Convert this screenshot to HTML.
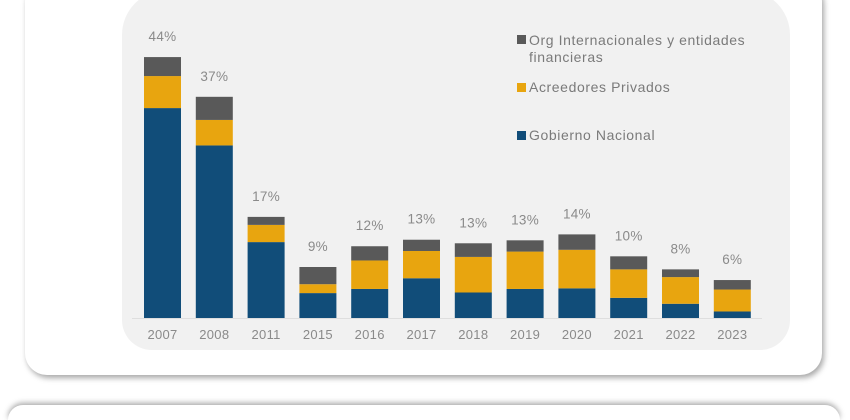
<!DOCTYPE html>
<html><head><meta charset="utf-8"><style>
html,body{margin:0;padding:0;background:#fff;width:850px;height:420px;overflow:hidden;}
body{position:relative;font-family:"Liberation Sans",sans-serif;}
.card{position:absolute;left:25px;top:-20px;width:797px;height:395px;background:#fff;border-radius:22px;box-shadow:2px 3px 6px rgba(0,0,0,0.35);}
.card2{position:absolute;left:8px;top:405px;width:832px;height:15px;background:#fff;border-radius:22px 22px 0 0;box-shadow:0 -2px 6px rgba(0,0,0,0.35);}
.panel{position:absolute;left:122px;top:-10px;width:668px;height:360px;background:#f1f1f1;border-radius:45px 45px 30px 30px;}
svg{position:absolute;left:0;top:0;}
</style></head><body>
<div class="card"></div>
<div class="card2"></div>
<div class="panel"></div>
<svg id="chart" width="850" height="420"></svg>
<script>
const categories=["2007","2008","2011","2015","2016","2017","2018","2019","2020","2021","2022","2023"];
const gobierno=[35.4,29.1,12.8,4.2,4.9,6.7,4.3,4.9,5.0,3.4,2.4,1.1];
const acreedores=[5.4,4.3,2.9,1.5,4.8,4.6,6.0,6.3,6.5,4.8,4.5,3.7];
const organismos=[3.2,3.9,1.35,2.9,2.4,1.9,2.3,1.9,2.6,2.2,1.3,1.6];
const totalLabels=["44%","37%","17%","9%","12%","13%","13%","13%","14%","10%","8%","6%"];
const seriesNames=["Org Internacionales y entidades","Acreedores Privados","Gobierno Nacional"];

const NS="http://www.w3.org/2000/svg";
const svg=document.getElementById("chart");
const baseY=318, pxPer=5.93, x0=162.5, pitch=51.8, bw=37;
const xC=i=>x0+i*pitch;
const yH=v=>v*pxPer;
function mk(tag,attrs){const e=document.createElementNS(NS,tag);for(const k in attrs)e.setAttribute(k,attrs[k]);svg.appendChild(e);return e;}
const axis=mk("line",{x1:132,x2:762,y1:baseY+0.5,y2:baseY+0.5,stroke:"#dedede","stroke-width":1});


const colors=["#114d79","#e8a50f","#595959"];
categories.forEach((c,i)=>{
  let y=baseY;
  [gobierno[i],acreedores[i],organismos[i]].forEach((v,s)=>{
    const h=yH(v);y-=h;
    const r=mk("rect",{x:xC(i)-bw/2,y:y,width:bw,height:h,fill:colors[s]});
    
    
  });
  const t=mk("text",{x:xC(i),y:y-16,"text-anchor":"middle","font-size":"13.5",fill:"#8a8a8a","letter-spacing":"0.3"});
  t.textContent=totalLabels[i];
  
  
  const yl=mk("text",{x:xC(i),y:339,"text-anchor":"middle","font-size":"13",fill:"#8a8a8a","letter-spacing":"0.3"});
  yl.textContent=c;
  
  
});
</script>
<svg width="850" height="420" style="pointer-events:none">
 <g font-family="Liberation Sans, sans-serif" font-size="14" fill="#7a7a7a" letter-spacing="0.6">
  <rect x="517" y="35" width="9" height="9" fill="#595959"/>
  <text x="529" y="45">Org Internacionales y entidades</text>
  <text x="529" y="62">financieras</text>
  <rect x="517" y="83" width="9" height="9" fill="#e8a50f"/>
  <text x="529" y="92">Acreedores Privados</text>
  <rect x="517" y="131" width="9" height="9" fill="#114d79"/>
  <text x="529" y="140">Gobierno Nacional</text>
 </g>
</svg>
</body></html>
